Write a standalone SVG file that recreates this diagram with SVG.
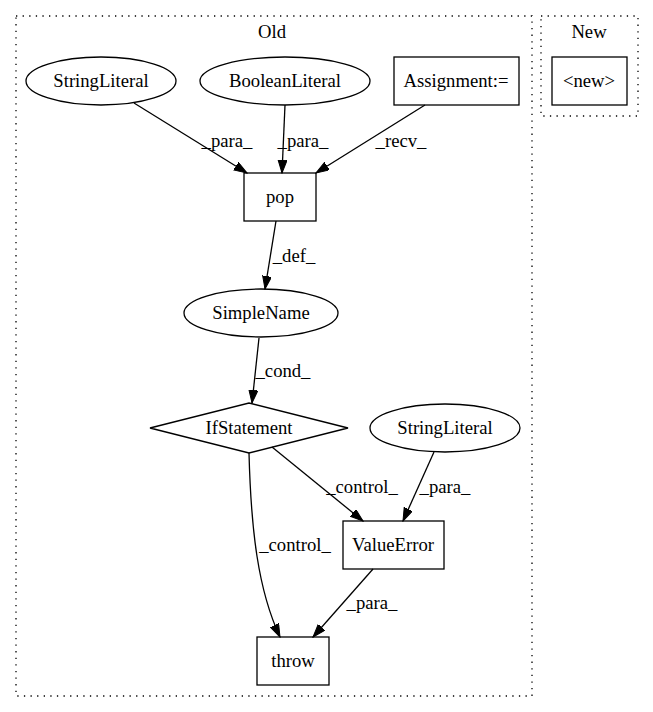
<svg xmlns="http://www.w3.org/2000/svg" width="653" height="712" viewBox="0 0 653 712">
<style>
text{font-family:"Liberation Serif","Times New Roman",serif;font-size:18.67px;fill:#000;text-anchor:middle}
.n{fill:none;stroke:#000;stroke-width:1.3}
.c{fill:none;stroke:#000;stroke-width:1.3;stroke-dasharray:1.3,5.3}
.e{fill:none;stroke:#000;stroke-width:1.3;marker-end:url(#ah)}
</style>
<defs>
<marker id="ah" markerUnits="userSpaceOnUse" markerWidth="14" markerHeight="10" refX="13" refY="4.5" orient="auto">
<path d="M0,0 L13,4.5 L0,9 z" fill="#000" stroke="#000" stroke-width="1"/>
</marker>
</defs>
<rect width="653" height="712" fill="#fff"/>
<g id="cluster_old">
<rect class="c" x="16" y="16" width="516" height="680"/>
<text x="272" y="38">Old</text>
</g>
<g id="cluster_new">
<rect class="c" x="541" y="16" width="97" height="100"/>
<text x="589" y="38">New</text>
</g>
<g id="edges">
<path class="e" d="M134,103 L247,173"/>
<text x="227" y="147">_para_</text>
<path class="e" d="M285,105 L282,173"/>
<text x="303" y="147">_para_</text>
<path class="e" d="M425,105 L316,173"/>
<text x="401" y="147">_recv_</text>
<path class="e" d="M276,221 L265,289"/>
<text x="294" y="262">_def_</text>
<path class="e" d="M259,338 L252,403"/>
<text x="283" y="377">_cond_</text>
<path class="e" d="M272,447 L363,521"/>
<text x="362" y="493">_control_</text>
<path class="e" d="M434,452 L403,521"/>
<text x="445" y="493">_para_</text>
<path class="e" d="M249,453 C251,530 258,590 280,637"/>
<text x="295" y="551">_control_</text>
<path class="e" d="M373,569 L313,637"/>
<text x="372" y="609">_para_</text>
</g>
<g id="StringLiteral1">
<ellipse class="n" cx="101" cy="81" rx="75" ry="24"/>
<text x="101" y="87">StringLiteral</text>
</g>
<g id="BooleanLiteral">
<ellipse class="n" cx="285" cy="81" rx="85" ry="24"/>
<text x="285" y="87">BooleanLiteral</text>
</g>
<g id="Assignment">
<rect class="n" x="394" y="57" width="125" height="48"/>
<text x="456" y="87">Assignment:=</text>
</g>
<g id="new">
<rect class="n" x="552" y="57" width="75" height="48"/>
<text x="589" y="87">&lt;new&gt;</text>
</g>
<g id="pop">
<rect class="n" x="244" y="173" width="72" height="48"/>
<text x="280" y="203">pop</text>
</g>
<g id="SimpleName">
<ellipse class="n" cx="261" cy="313" rx="77" ry="24"/>
<text x="261" y="319">SimpleName</text>
</g>
<g id="IfStatement">
<polygon class="n" points="150,428 249,403 348,428 249,453"/>
<text x="249" y="434">IfStatement</text>
</g>
<g id="StringLiteral2">
<ellipse class="n" cx="445" cy="428" rx="75" ry="24"/>
<text x="445" y="434">StringLiteral</text>
</g>
<g id="ValueError">
<rect class="n" x="343" y="521" width="101" height="48"/>
<text x="393" y="551">ValueError</text>
</g>
<g id="throw">
<rect class="n" x="257" y="637" width="72" height="48"/>
<text x="293" y="667">throw</text>
</g>
</svg>
